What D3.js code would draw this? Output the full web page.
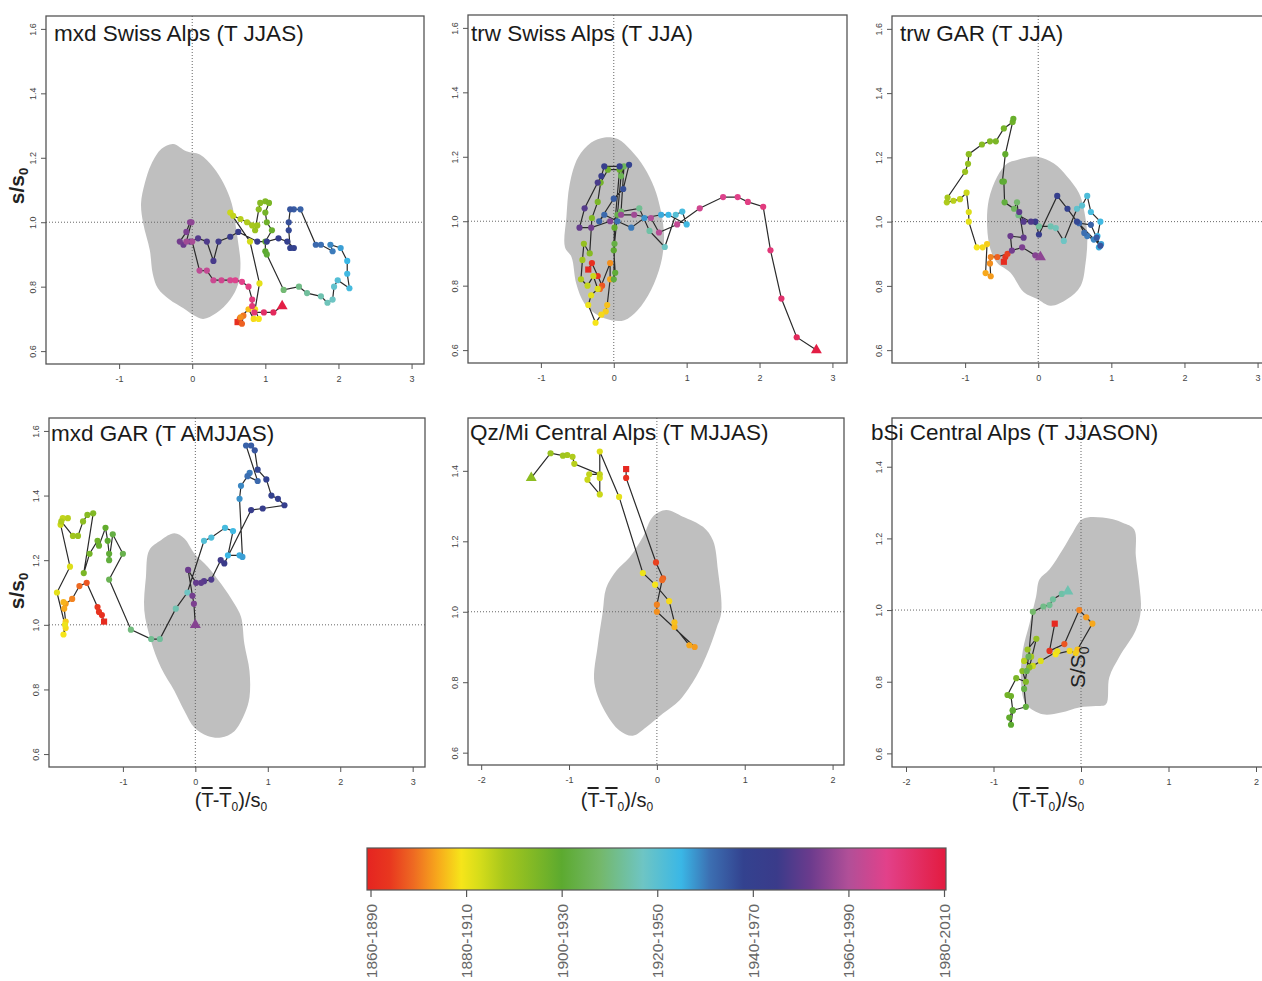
<!DOCTYPE html>
<html>
<head>
<meta charset="utf-8">
<script src="https://cdn.jsdelivr.net/npm/d3@7"></script>
<style>
  body { margin: 0; background: #fff; }
  text { font-family: "Liberation Sans", Arial, sans-serif; }
</style>
</head>
<body>
<svg id="chart" width="1262" height="981"></svg>
<script>
// ─────────────────────────────────────────────
// Six "trajectory" panels: standardised mean (x) vs. s/s0 (y) for moving
// 30-yr windows, coloured by window centre, on top of a grey envelope.
// ─────────────────────────────────────────────

// Colour bar: 30-yr periods and their centre years
const periodLabels  = ["1860-1890", "1880-1910", "1900-1930", "1920-1950", "1940-1970", "1960-1990", "1980-2010"];
const periodCenters = [1875, 1895, 1915, 1935, 1955, 1975, 1995];

// colour ramp along the bar (centre year -> colour)
const colorYears = [1874, 1879, 1884, 1889, 1894, 1898, 1903, 1915, 1923, 1932, 1940, 1946, 1953, 1960, 1967, 1975, 1983, 1996];
const colorHex   = ["#e52421", "#e8371f", "#ee6a22", "#f7a81c", "#f6e51a", "#d4dc1a", "#a6c71c", "#5caa2f", "#74b86a",
                    "#6ec5c4", "#3ab7e6", "#3c6fb2", "#33428f", "#3a3b8a", "#6b3b8d", "#b14f98", "#e2418a", "#e31b3f"];

const panelTitles = ["mxd Swiss Alps (T JJAS)", "trw Swiss Alps (T JJA)", "trw GAR (T JJA)",
                     "mxd GAR (T AMJJAS)", "Qz/Mi Central Alps (T MJJAS)", "bSi Central Alps (T JJASON)"];

const xTicksWide   = [-1, 0, 1, 2, 3];
const xTicksNarrow = [-2, -1, 0, 1, 2];
const yTicksTall   = [0.6, 0.8, 1.0, 1.2, 1.4, 1.6];
const yTicksShort  = [0.6, 0.8, 1.0, 1.2, 1.4];

// trajectories: [ (T-T0)/s0 , s/s0 , window centre year ]
const trackMxdSwiss = [
  [0.62,0.69,1877],[0.65,0.70,1880],[0.68,0.685,1883],[0.70,0.71,1885],[0.66,0.705,1887],
  [0.77,0.73,1891],[0.84,0.70,1893],[0.91,0.70,1894],[0.86,0.73,1895],[0.92,0.81,1896],
  [0.79,0.94,1898],[0.52,1.03,1899],[0.56,1.02,1900],[0.66,1.01,1901],[0.75,1.00,1902],[0.82,0.99,1903],[0.89,0.99,1904],[0.86,0.975,1905],
  [0.91,1.04,1907],[0.93,1.06,1908],[1.00,1.065,1909],[1.05,1.06,1910],[1.00,1.03,1911],[1.02,1.00,1912],[1.09,0.975,1913],[1.00,0.94,1914],[1.00,0.91,1915],[1.02,0.90,1916],
  [1.25,0.79,1924],[1.46,0.80,1926],[1.57,0.78,1928],[1.76,0.77,1930],[1.85,0.75,1931],[1.92,0.76,1932],
  [1.94,0.80,1934],[1.99,0.82,1936],[2.15,0.795,1938],[2.12,0.84,1939],[2.12,0.88,1940],[2.03,0.92,1942],
  [1.89,0.93,1944],[1.92,0.91,1945],[1.76,0.93,1946],[1.69,0.93,1947],[1.48,1.04,1948],[1.39,1.04,1949],[1.34,1.04,1950],
  [1.32,1.00,1951],[1.32,0.975,1952],[1.34,0.92,1953],[1.39,0.92,1954],[1.30,0.94,1955],[1.18,0.95,1956],[1.02,0.94,1957],
  [0.89,0.94,1958],[0.63,0.97,1959],[0.52,0.955,1960],[0.36,0.94,1961],[0.29,0.88,1962],[0.20,0.94,1963],[0.08,0.95,1964],
  [-0.03,0.94,1966],[-0.12,0.93,1967],[-0.17,0.94,1968],[-0.08,0.97,1969],[-0.03,1.00,1970],[-0.01,1.00,1971],
  [-0.08,0.94,1973],[0.00,0.94,1974],
  [0.10,0.85,1977],[0.20,0.85,1978],[0.29,0.82,1979],[0.40,0.82,1980],[0.52,0.82,1981],[0.59,0.82,1982],[0.68,0.815,1983],
  [0.77,0.80,1984],[0.82,0.76,1985],[0.82,0.74,1986],[0.85,0.72,1987],[0.98,0.72,1989],[1.11,0.72,1991],[1.23,0.74,1995]
];

const trackTrwSwiss = [
  [-0.35,0.85,1875],[-0.30,0.87,1877],[-0.22,0.83,1879],[-0.16,0.80,1882],[-0.19,0.79,1884],[-0.05,0.87,1887],[-0.05,0.82,1889],
  [-0.09,0.74,1891],[-0.11,0.72,1892],[-0.17,0.71,1893],[-0.25,0.685,1894],[-0.35,0.74,1895],[-0.31,0.77,1896],[-0.22,0.79,1897],
  [-0.28,0.83,1899],[-0.36,0.80,1900],[-0.45,0.82,1902],[-0.43,0.88,1904],[-0.41,0.93,1906],
  [-0.33,0.90,1908],[-0.30,1.01,1909],[-0.22,1.06,1910],[-0.18,1.12,1911],[-0.08,1.16,1912],[0.08,1.16,1913],
  [0.01,0.98,1914],[0.00,0.91,1915],[0.02,0.84,1916],[0.00,0.82,1917],[0.01,0.93,1918],[0.05,1.02,1919],[0.10,1.14,1920],[0.14,1.17,1921],
  [0.10,1.03,1923],[0.35,1.04,1927],[0.49,0.97,1929],[0.70,0.92,1932],
  [0.85,1.02,1936],[0.94,1.03,1938],[1.00,0.99,1939],[0.75,1.02,1940],[0.65,1.02,1941],
  [0.42,1.01,1943],[0.24,0.98,1945],[0.05,1.00,1946],[-0.13,1.02,1947],[-0.20,1.00,1948],[0.00,1.07,1949],
  [0.13,1.10,1951],[0.21,1.175,1953],[0.08,1.17,1955],[-0.13,1.17,1957],[-0.17,1.14,1959],
  [-0.22,1.12,1962],[-0.40,1.04,1964],[-0.47,0.98,1966],[-0.31,0.98,1968],[-0.05,1.00,1970],
  [0.10,1.02,1972],[0.28,1.02,1973],[0.51,1.01,1975],[0.62,0.965,1976],[0.87,0.99,1978],[1.18,1.04,1980],
  [1.50,1.075,1982],[1.70,1.075,1983],[1.84,1.06,1984],[2.05,1.045,1985],[2.15,0.91,1986],
  [2.30,0.76,1988],[2.51,0.64,1991],[2.78,0.60,1995]
];

const trackTrwGar = [
  [-0.47,0.875,1876],[-0.45,0.89,1878],[-0.42,0.90,1880],[-0.56,0.89,1883],
  [-0.65,0.89,1886],[-0.66,0.87,1887],[-0.65,0.83,1888],[-0.72,0.84,1889],
  [-0.70,0.93,1892],[-0.76,0.92,1893],[-0.84,0.92,1894],[-0.95,1.00,1896],[-0.95,1.03,1897],
  [-0.98,1.09,1899],[-1.07,1.07,1900],[-1.16,1.065,1901],[-1.25,1.06,1902],[-1.24,1.075,1903],
  [-1.00,1.155,1905],[-0.96,1.18,1906],[-0.95,1.21,1907],[-0.77,1.24,1908],[-0.66,1.25,1909],[-0.58,1.25,1910],
  [-0.47,1.29,1911],[-0.35,1.31,1912],[-0.34,1.32,1913],[-0.45,1.21,1914],[-0.49,1.125,1915],[-0.47,1.125,1916],[-0.46,1.06,1917],
  [-0.33,1.04,1921],[-0.29,1.06,1923],[-0.27,1.02,1925],
  [0.01,0.985,1928],[0.17,0.985,1930],[0.24,0.98,1931],[0.35,0.94,1932],[0.53,1.04,1934],[0.60,1.05,1935],
  [0.67,1.08,1937],[0.72,1.03,1938],[0.85,1.00,1939],[0.81,0.955,1940],[0.83,0.92,1941],[0.86,0.93,1942],
  [0.76,0.944,1944],[0.67,0.955,1945],[0.63,0.965,1946],[0.56,0.995,1947],[0.72,0.99,1948],[0.80,0.95,1949],[0.85,0.925,1950],
  [0.53,1.00,1952],[0.40,1.04,1954],[0.26,1.08,1956],[0.01,0.96,1958],[-0.04,1.00,1960],
  [-0.10,1.00,1963],[-0.20,1.00,1964],[-0.26,1.03,1965],[-0.20,0.95,1966],[-0.38,0.955,1967],[-0.36,0.91,1968],
  [-0.22,0.92,1969],[-0.04,0.895,1970],[0.03,0.89,1971]
];

const trackMxdGar = [
  [-1.26,1.01,1876],[-1.29,1.03,1877],[-1.33,1.04,1878],[-1.35,1.055,1879],
  [-1.50,1.13,1882],[-1.60,1.12,1884],[-1.70,1.08,1886],[-1.79,1.065,1888],[-1.81,1.05,1889],[-1.82,1.07,1890],
  [-1.79,1.01,1892],[-1.79,0.99,1893],[-1.82,0.97,1894],[-1.80,1.00,1895],[-1.91,1.10,1896],[-1.73,1.18,1897],
  [-1.86,1.31,1899],[-1.83,1.33,1900],[-1.76,1.33,1901],[-1.85,1.32,1902],[-1.69,1.275,1904],[-1.62,1.275,1905],
  [-1.55,1.32,1907],[-1.49,1.34,1908],[-1.41,1.345,1909],[-1.54,1.16,1910],[-1.46,1.22,1911],[-1.35,1.26,1912],
  [-1.33,1.245,1913],[-1.24,1.30,1914],[-1.21,1.26,1915],[-1.19,1.22,1916],[-1.19,1.20,1917],[-1.14,1.28,1918],
  [-1.00,1.22,1919],[-1.19,1.14,1920],
  [-0.89,0.985,1925],[-0.61,0.956,1927],[-0.49,0.956,1928],[-0.27,1.05,1930],[-0.11,1.10,1932],
  [0.12,1.26,1936],[0.22,1.27,1937],[0.41,1.30,1938],[0.52,1.29,1939],[0.45,1.215,1940],[0.61,1.215,1941],[0.65,1.21,1942],[0.61,1.39,1943],
  [0.63,1.43,1944],[0.75,1.47,1945],[0.72,1.46,1946],[0.86,1.445,1947],[0.70,1.555,1948],[0.77,1.555,1949],[0.82,1.54,1950],
  [0.86,1.48,1952],[0.98,1.45,1953],[1.05,1.40,1954],[1.14,1.39,1955],[1.23,1.37,1956],[0.93,1.36,1957],[0.77,1.355,1958],
  [0.40,1.19,1960],[0.35,1.20,1961],
  [0.22,1.14,1963],[0.12,1.135,1964],[0.08,1.13,1965],[0.01,1.13,1966],[-0.10,1.17,1967],[-0.04,1.09,1968],[-0.02,1.065,1969],[0.00,1.00,1970]
];

const trackQzMi = [
  [-0.35,1.405,1875],[-0.35,1.38,1877],[-0.01,1.14,1880],[0.07,1.095,1883],[0.06,1.09,1884],[0.00,1.02,1886],[0.00,1.00,1887],
  [0.43,0.90,1888],[0.37,0.905,1889],[0.20,0.957,1890],[0.20,0.97,1891],[0.14,1.03,1893],[-0.02,1.077,1894],[-0.16,1.11,1895],
  [-0.43,1.326,1896],[-0.65,1.455,1897],[-0.65,1.38,1898],[-0.65,1.333,1899],[-0.79,1.375,1899],[-0.77,1.39,1900],[-0.65,1.39,1900],
  [-0.94,1.42,1901],[-0.96,1.44,1902],[-1.02,1.445,1903],[-1.07,1.443,1904],[-1.21,1.45,1905],[-1.43,1.38,1907]
];

const trackBsi = [
  [-0.30,0.962,1875],[-0.36,0.886,1878],[-0.19,0.905,1882],[-0.02,1.00,1886],[0.06,0.98,1888],[0.13,0.962,1889],
  [-0.04,0.89,1891],[-0.06,0.88,1892],[-0.13,0.886,1893],[-0.29,0.877,1894],[-0.27,0.885,1895],[-0.46,0.858,1897],
  [-0.55,0.844,1899],[-0.65,0.858,1901],[-0.57,0.87,1903],[-0.61,0.89,1905],[-0.51,0.92,1906],[-0.59,0.84,1907],
  [-0.67,0.83,1908],[-0.63,0.80,1909],[-0.74,0.81,1910],[-0.84,0.763,1911],[-0.80,0.76,1912],[-0.78,0.72,1913],
  [-0.82,0.70,1914],[-0.80,0.68,1915],[-0.78,0.72,1916],[-0.63,0.73,1917],[-0.65,0.78,1918],[-0.62,0.83,1919],
  [-0.60,0.87,1920],[-0.55,0.995,1923],[-0.43,1.01,1926],[-0.36,1.014,1927],[-0.32,1.03,1928],[-0.22,1.045,1929],[-0.15,1.052,1930]
];

// grey envelopes (outline points, data units)
const blobMxdSwiss = [[-0.26,1.243],[-0.08,1.22],[0.105,1.21],[0.29,1.17],[0.43,1.12],[0.54,1.058],[0.59,0.996],[0.63,0.934],
  [0.66,0.872],[0.63,0.81],[0.52,0.76],[0.33,0.718],[0.15,0.70],[0.014,0.712],[-0.12,0.733],[-0.31,0.76],[-0.47,0.795],
  [-0.54,0.84],[-0.58,0.913],[-0.67,0.996],[-0.70,1.058],[-0.65,1.12],[-0.56,1.18],[-0.42,1.228]];
const blobTrwSwiss = [[-0.127,1.26],[0.055,1.255],[0.236,1.22],[0.418,1.167],[0.555,1.105],[0.645,1.033],[0.69,0.95],
  [0.645,0.868],[0.51,0.786],[0.327,0.724],[0.145,0.693],[-0.036,0.693],[-0.218,0.708],[-0.40,0.744],[-0.514,0.806],
  [-0.58,0.889],[-0.67,0.92],[-0.65,1.012],[-0.605,1.115],[-0.49,1.198],[-0.31,1.244]];
const blobTrwGar = [[-0.288,1.192],[-0.014,1.202],[0.215,1.181],[0.397,1.14],[0.557,1.089],[0.626,1.037],[0.671,0.955],
  [0.648,0.872],[0.58,0.80],[0.397,0.759],[0.169,0.738],[-0.014,0.759],[-0.196,0.78],[-0.379,0.841],[-0.562,0.872],
  [-0.653,0.913],[-0.699,0.986],[-0.676,1.068],[-0.562,1.14],[-0.425,1.181]];
const blobMxdGar = [[-0.475,1.262],[-0.29,1.283],[-0.152,1.267],[-0.014,1.221],[0.17,1.18],[0.355,1.127],[0.539,1.065],
  [0.631,1.024],[0.677,0.941],[0.747,0.858],[0.747,0.775],[0.677,0.723],[0.539,0.671],[0.355,0.651],[0.17,0.656],
  [-0.014,0.682],[-0.152,0.734],[-0.29,0.796],[-0.475,0.868],[-0.613,0.951],[-0.705,1.045],[-0.682,1.148],[-0.636,1.231]];
const blobQzMi = [[0.106,1.289],[0.297,1.27],[0.525,1.241],[0.639,1.202],[0.696,1.116],[0.734,1.0],[0.677,0.952],
  [0.563,0.875],[0.449,0.817],[0.259,0.749],[0.068,0.711],[-0.122,0.672],[-0.274,0.648],[-0.426,0.663],[-0.578,0.711],
  [-0.711,0.798],[-0.673,0.904],[-0.616,1.0],[-0.578,1.067],[-0.464,1.116],[-0.312,1.154],[-0.16,1.212],[-0.046,1.27]];
const blobBsi = [[0.019,1.254],[0.247,1.258],[0.475,1.244],[0.608,1.225],[0.627,1.15],[0.665,1.075],[0.684,1.0],
  [0.627,0.944],[0.437,0.869],[0.323,0.812],[0.285,0.737],[0.171,0.732],[-0.019,0.728],[-0.228,0.714],[-0.437,0.709],
  [-0.627,0.737],[-0.684,0.793],[-0.665,0.887],[-0.589,0.962],[-0.513,1.038],[-0.475,1.085],[-0.361,1.113],[-0.209,1.169],[-0.095,1.216]];

// ─────────────────────────────────────────────
// layout
// ─────────────────────────────────────────────
const panels = [
  { id: 1, title: panelTitles[0], track: trackMxdSwiss, blob: blobMxdSwiss, box: [46, 16, 424, 364],
    xDom: [-2.0, 3.17], yDom: [0.56, 1.64], xTicks: xTicksWide, yTicks: yTicksTall, tx: 54, ty: 41, ylab: [24, 186] },
  { id: 2, title: panelTitles[1], track: trackTrwSwiss, blob: blobTrwSwiss, box: [468, 15, 847, 363],
    xDom: [-2.0, 3.2], yDom: [0.56, 1.64], xTicks: xTicksWide, yTicks: yTicksTall, tx: 471, ty: 41 },
  { id: 3, title: panelTitles[2], track: trackTrwGar, blob: blobTrwGar, box: [892, 16, 1270, 363],
    xDom: [-2.0, 3.17], yDom: [0.56, 1.64], xTicks: xTicksWide, yTicks: yTicksTall, tx: 900, ty: 41 },
  { id: 4, title: panelTitles[3], track: trackMxdGar, blob: blobMxdGar, box: [49, 418, 425, 767],
    xDom: [-2.02, 3.17], yDom: [0.56, 1.64], xTicks: xTicksWide, yTicks: yTicksTall, tx: 51, ty: 441, ylab: [24, 591], xlab: 231 },
  { id: 5, title: panelTitles[4], track: trackQzMi, blob: blobQzMi, box: [468, 418, 844, 765],
    xDom: [-2.15, 2.13], yDom: [0.565, 1.55], xTicks: xTicksNarrow, yTicks: yTicksShort, tx: 470, ty: 440, xlab: 617 },
  { id: 6, title: panelTitles[5], track: trackBsi, blob: blobBsi, box: [892, 418, 1270, 767],
    xDom: [-2.16, 2.16], yDom: [0.562, 1.536], xTicks: xTicksNarrow, yTicks: yTicksShort, tx: 871, ty: 440, xlab: 1048 }
];

const svg = d3.select("#chart");
const color = d3.scaleLinear().domain(colorYears).range(colorHex).clamp(true);

panels.forEach(drawPanel);
drawColorBar();

// stray rotated label that sits inside the last panel in the original figure
svg.append("text")
  .attr("transform", "translate(1085,688) rotate(-90)")
  .attr("font-size", 21).attr("fill", "#222")
  .call(t => {
    t.append("tspan").text("S/S");
    t.append("tspan").attr("font-size", 14).attr("dy", 4).text("0");
  });

function drawPanel(p) {
  const [l, t, r, b] = p.box;
  const x = d3.scaleLinear().domain(p.xDom).range([l, r]);
  const y = d3.scaleLinear().domain(p.yDom).range([b, t]);
  const g = svg.append("g").attr("class", "panel");

  const clipId = "clip" + p.id;
  svg.append("clipPath").attr("id", clipId)
    .append("rect").attr("x", l).attr("y", t).attr("width", r - l).attr("height", b - t);
  const inner = g.append("g").attr("clip-path", `url(#${clipId})`);

  // grey envelope
  inner.append("path").datum(p.blob)
    .attr("d", d3.line().x(d => x(d[0])).y(d => y(d[1])).curve(d3.curveCatmullRomClosed.alpha(0.5)))
    .attr("fill", "#bfbfbf");

  // reference lines x = 0, y = 1
  inner.append("line").attr("x1", x(0)).attr("x2", x(0)).attr("y1", t).attr("y2", b)
    .attr("stroke", "#666").attr("stroke-width", 1).attr("stroke-dasharray", "1,2");
  inner.append("line").attr("x1", l).attr("x2", r).attr("y1", y(1)).attr("y2", y(1))
    .attr("stroke", "#666").attr("stroke-width", 1).attr("stroke-dasharray", "1,2");

  // trajectory
  inner.append("path").datum(p.track)
    .attr("d", d3.line().x(d => x(d[0])).y(d => y(d[1])))
    .attr("fill", "none").attr("stroke", "#2a2a2a").attr("stroke-width", 1.2);

  const last = p.track.length - 1;
  inner.selectAll("path.pt").data(p.track).join("path")
    .attr("class", "pt")
    .attr("transform", d => `translate(${x(d[0])},${y(d[1])})`)
    .attr("d", (d, i) => i === 0 ? d3.symbol(d3.symbolSquare, 38)()
                     : i === last ? d3.symbol(d3.symbolTriangle, 52)()
                     : d3.symbol(d3.symbolCircle, 30)())
    .attr("fill", d => color(d[2]));

  // frame
  g.append("rect").attr("x", l).attr("y", t).attr("width", r - l).attr("height", b - t)
    .attr("fill", "none").attr("stroke", "#555").attr("stroke-width", 1.3);

  // axes
  const ax = g.append("g").attr("transform", `translate(0,${b})`)
    .call(d3.axisBottom(x).tickValues(p.xTicks).tickSize(5).tickFormat(d => String(d)));
  ax.select(".domain").remove();
  ax.selectAll("line").attr("stroke", "#555");
  ax.selectAll("text").attr("font-size", 9).attr("fill", "#444").attr("dy", 0).attr("y", 18);

  const ay = g.append("g").attr("transform", `translate(${l},0)`)
    .call(d3.axisLeft(y).tickValues(p.yTicks).tickSize(5).tickFormat(""));
  ay.select(".domain").remove();
  ay.selectAll("line").attr("stroke", "#555");
  ay.selectAll(".tick").append("text")
    .attr("transform", "translate(-10.5,0) rotate(-90)")
    .attr("text-anchor", "middle").attr("font-size", 9).attr("fill", "#444")
    .text(d => d3.format(".1f")(d));

  // title
  g.append("text").attr("x", p.tx).attr("y", p.ty)
    .attr("font-size", 22.5).attr("fill", "#1a1a1a").text(p.title);

  if (p.ylab) {
    svg.append("text")
      .attr("transform", `translate(${p.ylab[0]},${p.ylab[1]}) rotate(-90)`)
      .attr("text-anchor", "middle").attr("font-size", 21).attr("font-weight", "bold").attr("fill", "#222")
      .call(tx => {
        tx.append("tspan").text("s/s");
        tx.append("tspan").attr("font-size", 13).attr("dy", 4).text("0");
      });
  }
  if (p.xlab) {
    svg.append("text").attr("x", p.xlab).attr("y", 807)
      .attr("text-anchor", "middle").attr("font-size", 20).attr("fill", "#222")
      .call(tx => {
        tx.append("tspan").text("(");
        tx.append("tspan").style("text-decoration", "overline").text("T");
        tx.append("tspan").text("-");
        tx.append("tspan").style("text-decoration", "overline").text("T");
        tx.append("tspan").attr("font-size", 12).attr("dy", 4).text("0");
        tx.append("tspan").attr("dy", -4).text(")/s");
        tx.append("tspan").attr("font-size", 12).attr("dy", 4).text("0");
      });
  }
}

function drawColorBar() {
  const bx = d3.scaleLinear().domain([periodCenters[0], periodCenters[periodCenters.length - 1]]).range([370.5, 944]);
  const x0 = 367, x1 = 946, top = 848, bot = 890;
  const y0 = bx.invert(x0), y1 = bx.invert(x1);

  const grad = svg.append("defs").append("linearGradient").attr("id", "cbar")
    .attr("x1", "0%").attr("x2", "100%").attr("y1", "0%").attr("y2", "0%");
  grad.selectAll("stop").data(colorYears).join("stop")
    .attr("offset", d => Math.max(0, Math.min(1, (d - y0) / (y1 - y0))))
    .attr("stop-color", d => color(d));

  svg.append("rect").attr("x", x0).attr("y", top).attr("width", x1 - x0).attr("height", bot - top)
    .attr("fill", "url(#cbar)").attr("stroke", "#555").attr("stroke-width", 1.2);

  const ax = svg.append("g").attr("transform", `translate(0,${bot})`)
    .call(d3.axisBottom(bx).tickValues(periodCenters).tickSize(7).tickFormat(""));
  ax.select(".domain").remove();
  ax.selectAll("line").attr("stroke", "#555").attr("stroke-width", 1.2);
  ax.selectAll(".tick").append("text")
    .attr("transform", "translate(5.5,14) rotate(-90)")
    .attr("text-anchor", "end").attr("font-size", 15.5).attr("fill", "#666")
    .text((d, i) => periodLabels[i]);
}
</script>
</body>
</html>
